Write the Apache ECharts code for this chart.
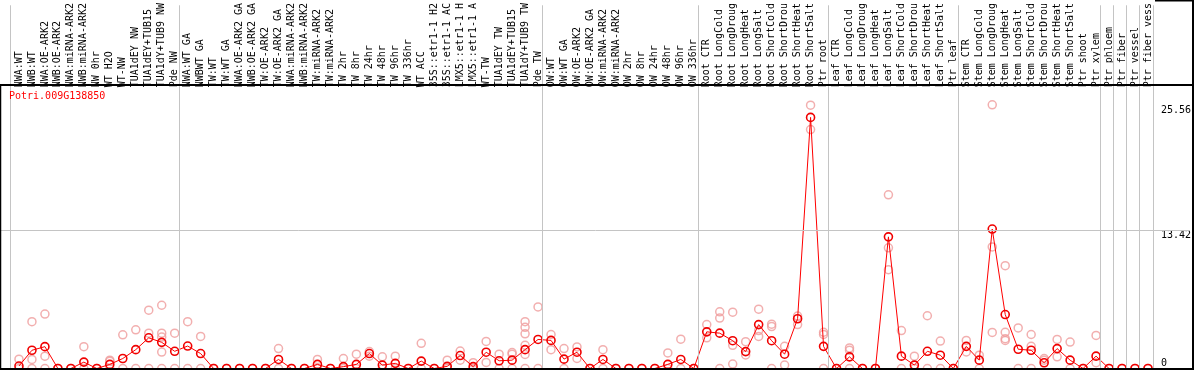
<!DOCTYPE html>
<html>
<head>
<meta charset="utf-8">
<script src="https://cdn.jsdelivr.net/npm/echarts@6/dist/echarts.min.js"></script>
<style>
  html, body { margin: 0; padding: 0; background: #fff; }
  #chart { width: 1194px; height: 370px; }
</style>
</head>
<body>
<div id="chart"></div>
<script>
// sample names, cut to 14 chars like the original plot
const categories = [
  'NWA:WT', 'NWB:WT', 'NWA:OE-ARK2', 'NWB:OE-ARK2', 'NWA:miRNA-ARK2', 'NWB:miRNA-ARK2',
  'NW 0hr', 'WT H2O', 'WT-NW', 'TUA1dEY NW', 'TUA1dEY+TUB15', 'TUA1dY+TUB9 NW', 'Pde NW',
  'NWA:WT GA', 'NWBWT GA', 'TW:WT', 'TW:WT GA', 'NWA:OE-ARK2 GA', 'NWB:OE-ARK2 GA',
  'TW:OE-ARK2', 'TW:OE-ARK2 GA', 'NWA:miRNA-ARK2', 'NWB:miRNA-ARK2', 'TW:miRNA-ARK2',
  'TW:miRNA-ARK2', 'TW 2hr', 'TW 8hr', 'TW 24hr', 'TW 48hr', 'TW 96hr', 'TW 336hr',
  'WT ACC', '35S::etr1-1 H2', '35S::etr1-1 AC', 'LMX5::etr1-1 H', 'LMX5::etr1-1 A',
  'WT-TW', 'TUA1dEY TW', 'TUA1dEY+TUB15', 'TUA1dY+TUB9 TW', 'Pde TW',
  'OW:WT', 'OW:WT GA', 'OW:OE-ARK2', 'OW:OE-ARK2 GA', 'OW:miRNA-ARK2', 'OW:miRNA-ARK2',
  'OW 2hr', 'OW 8hr', 'OW 24hr', 'OW 48hr', 'OW 96hr', 'OW 336hr',
  'Root CTR', 'Root LongCold', 'Root LongDroug', 'Root LongHeat', 'Root LongSalt',
  'Root ShortCold', 'Root ShortDrou', 'Root ShortHeat', 'Root ShortSalt', 'Ptr root',
  'Leaf CTR', 'Leaf LongCold', 'Leaf LongDroug', 'Leaf LongHeat', 'Leaf LongSalt',
  'Leaf ShortCold', 'Leaf ShortDrou', 'Leaf ShortHeat', 'Leaf ShortSalt', 'Ptr leaf',
  'Stem CTR', 'Stem LongCold', 'Stem LongDroug', 'Stem LongHeat', 'Stem LongSalt',
  'Stem ShortCold', 'Stem ShortDrou', 'Stem ShortHeat', 'Stem ShortSalt', 'Ptr shoot',
  'Ptr xylem', 'Ptr phloem', 'Ptr fiber', 'Ptr vessel', 'Ptr fiber vess'
];

// number of samples in each block (gray separators between them)
const groupSizes = [13, 28, 12, 10, 10, 11, 1, 1, 1, 1];

const meanValues = [
  0.24, 1.77, 2.12, 0, 0, 0.62, 0, 0.4, 0.97, 1.83, 2.98, 2.54, 1.67,
  2.18, 1.45, 0, 0, 0, 0, 0, 0.88, 0, 0, 0.4, 0, 0.18, 0.4, 1.45, 0.33, 0.5, 0,
  0.72, 0, 0.21, 1.26, 0.18, 1.58, 0.75, 0.81, 1.83, 2.82,
  2.73, 0.91, 1.58, 0, 0.88, 0, 0, 0, 0, 0.4, 0.88, 0,
  3.56, 3.43, 2.7, 1.64, 4.26, 2.7, 1.39, 4.83, 24.38, 2.15,
  0, 1.13, 0, 0, 12.78, 1.2, 0.33, 1.67, 1.29, 0,
  2.15, 0.81, 13.54, 5.24, 1.87, 1.77, 0.56, 1.93, 0.81, 0, 1.2,
  0, 0, 0, 0
];

const replicateValues = [
  [0.9, 0], [4.55, 0.88, 0], [5.28, 1.2, 0], [0], [0], [2.12, 0], [0], [0.81, 0.7, 0],
  [3.27, 0], [3.75, 0], [5.66, 3.43, 0], [6.14, 3.43, 3.05, 1.6, 0], [3.43, 0],
  [4.55, 0], [3.11, 0], [0], [0], [0], [0], [0], [1.93, 0], [0], [0], [0.88, 0], [0],
  [0.97, 0], [1.39, 0], [1.64, 1.2], [1.13, 0], [1.2, 0], [0],
  [2.44, 0], [0], [0.81, 0], [1.7, 0.81], [0.56, 0], [2.63, 0.59], [1.39, 0],
  [1.55, 1.39, 0], [4.55, 4.0, 3.37, 2.25, 1.36, 0], [5.98, 0],
  [3.3, 1.83], [1.93, 0], [2.09, 0.97], [0], [1.83, 0], [0], [0], [0], [0],
  [1.51, 0], [2.85, 0], [0],
  [4.26, 2.98], [5.5, 4.9, 0], [5.47, 2.25, 0.43], [2.6, 1.32], [5.76, 3.68, 3.11],
  [4.3, 4.07, 0], [2.15, 0.33], [5.09, 4.26], [25.56, 23.2], [3.52, 3.3, 0],
  [0], [2.0, 1.77, 0], [0], [0], [16.86, 11.72, 9.59], [3.68, 0], [1.2, 0],
  [5.12, 0], [2.66, 0], [0],
  [2.73, 1.61], [1.29, 0], [25.6, 11.8, 3.5], [9.98, 3.52, 2.89, 2.73], [3.94, 0],
  [3.3, 2.15, 0], [0.97, 0.81], [2.82, 1.13], [2.57, 0], [0], [3.21, 0.56],
  [0], [0], [0], [0]
];

const yTickLabels = [13.42, 25.56];
const geneName = 'Potri.009G138850';

const FONT = 'DejaVu Sans Mono';
const X_MIN = -18 / 13;
const X_MAX = X_MIN + 1191 / 13;
const Y_MAX = 368.5 / 10.45;

// separator positions just before each block, plus one after the last
const separators = [];
let start = 0;
groupSizes.forEach((n) => {
  separators.push(start - 0.65);
  start += n;
});
separators.push(start - 0.62);

const chart = echarts.init(document.getElementById('chart'));

chart.setOption({
  animation: false,
  backgroundColor: '#fff',
  title: {
    text: geneName,
    left: 9,
    top: 91,
    padding: 0,
    textStyle: { color: '#ff0000', fontFamily: FONT, fontSize: 10, fontWeight: 'normal' },
  },
  grid: { left: 1, right: 2, top: 0, bottom: 1.5 },
  xAxis: [
    {
      type: 'value',
      position: 'top',
      offset: -85,
      min: X_MIN,
      max: X_MAX,
      axisLine: { show: false },
      axisTick: { show: false },
      splitLine: { show: false },
      axisLabel: {
        customValues: categories.map((_, i) => i),
        formatter: (v) => categories[v],
        rotate: 90,
        margin: 3,
        color: '#000',
        fontFamily: FONT,
        fontSize: 10,
      },
    },
  ],
  yAxis: [
    {
      type: 'value',
      position: 'right',
      min: 0,
      max: Y_MAX,
      axisLine: { show: false },
      axisTick: { show: false },
      splitLine: { show: false },
      axisLabel: {
        customValues: yTickLabels,
        formatter: (v) => v.toFixed(2),
        inside: true,
        margin: 29,
        align: 'left',
        verticalAlign: 'top',
        color: '#000',
        fontFamily: FONT,
        fontSize: 10,
      },
    },
    {
      type: 'value',
      position: 'right',
      min: 0,
      max: Y_MAX,
      axisLine: { show: false },
      axisTick: { show: false },
      splitLine: { show: false },
      axisLabel: {
        customValues: [0],
        formatter: () => '0',
        inside: true,
        margin: 29,
        align: 'left',
        verticalAlign: 'bottom',
        color: '#000',
        fontFamily: FONT,
        fontSize: 10,
      },
    },
  ],
  series: [
    {
      name: 'replicates',
      type: 'scatter',
      z: 1,
      clip: false,
      symbol: 'circle',
      symbolSize: 8,
      itemStyle: { color: 'rgba(0,0,0,0)', borderColor: '#ef9b9b', borderWidth: 1.5 },
      data: replicateValues.flatMap((reps, i) => reps.map((v) => [i, v])),
      markLine: {
        silent: true,
        symbol: ['none', 'none'],
        label: { show: false },
        lineStyle: { color: '#c4c4c4', width: 1, type: 'solid' },
        data: separators.map((s) => ({ xAxis: s })).concat([{ yAxis: yTickLabels[0] }]),
      },
    },
    {
      name: 'mean',
      type: 'line',
      z: 3,
      clip: false,
      symbol: 'circle',
      symbolSize: 8,
      showAllSymbol: true,
      lineStyle: { color: '#ff0000', width: 1 },
      itemStyle: { color: 'rgba(0,0,0,0)', borderColor: '#f00000', borderWidth: 1.6 },
      data: meanValues.map((v, i) => [i, v]),
    },
  ],
  graphic: [
    { type: 'line', z: 10, shape: { x1: 0, y1: 85, x2: 1194, y2: 85 }, style: { stroke: '#000', lineWidth: 2 } },
    { type: 'line', z: 10, shape: { x1: 0, y1: 369, x2: 1194, y2: 369 }, style: { stroke: '#000', lineWidth: 2 } },
    { type: 'line', z: 10, shape: { x1: 0.5, y1: 85, x2: 0.5, y2: 370 }, style: { stroke: '#000', lineWidth: 1.5 } },
    { type: 'line', z: 10, shape: { x1: 1193, y1: 0, x2: 1193, y2: 370 }, style: { stroke: '#000', lineWidth: 2 } },
    { type: 'line', z: 10, shape: { x1: 1155, y1: 0.5, x2: 1194, y2: 0.5 }, style: { stroke: '#000', lineWidth: 2 } },
  ],
});
</script>
</body>
</html>
